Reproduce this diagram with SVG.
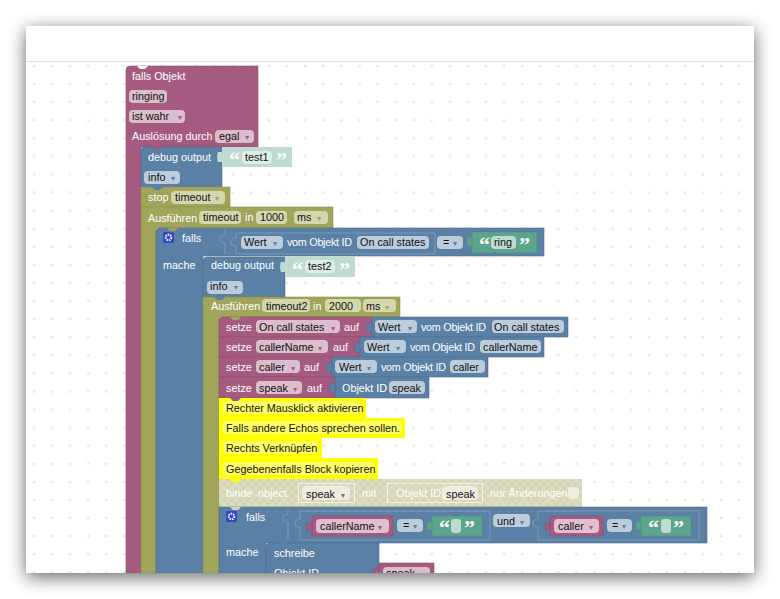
<svg xmlns="http://www.w3.org/2000/svg" width="780" height="599" viewBox="0 0 780 599">
<style>
text{font-family:"Liberation Sans",Arial,sans-serif;font-size:10.8px}
.w{fill:#fff}.d{fill:#111}.pw{fill:#fff}
.pk{fill:#a55b80;stroke:#8e4e6e;stroke-width:.6}.bl{fill:#5b80a5;stroke:#4e6e8e;stroke-width:.6}.ol{fill:#a0a55b;stroke:#8e9150;stroke-width:.6}
.gn{fill:#5ba58c;stroke:#4e8e78;stroke-width:.6}.st{fill:#bddbd1}.ye{fill:#ffff00}
.ppk{fill:#dbbdcc}.pbl{fill:#bdccdb}.pol{fill:#d4d7ae}.pgn{fill:#bddbd1}.pst{fill:#deede8}.pye{fill:#ffff66}.pbd{fill:#eeede0}
.ab{fill:#5b80a5}.ap{fill:#a55b80}.ao{fill:#a0a55b}
.q{font-family:"Liberation Serif",serif;font-weight:bold;font-size:22px;fill:#fff}
.box{fill:none;stroke:#7c99b5;stroke-width:1}.bb{fill:none;stroke:#f4f2e4;stroke-width:1}
.gear{fill:#3344cc}.a{font-size:8px}
.cog{fill:none;stroke:#fff;stroke-width:2;stroke-dasharray:1.5 .9}
.nb{fill:#5b80a5}.np{fill:#a55b80}.no{fill:#a0a55b}.ny{fill:#ffff00}.nw{fill:#fff}
</style>
<defs>
<filter id="sh" x="-10%" y="-10%" width="120%" height="120%"><feGaussianBlur stdDeviation="9"/></filter>
<pattern id="grid" x="34" y="66" width="18.08" height="18.08" patternUnits="userSpaceOnUse"><path d="M-1.500 0H1.500M0-1.500V1.500M16.580 0H19.580M18.080-1.500V1.500M-1.500 18.080H1.500M0 16.580V19.580M16.580 18.080H19.580M18.080 16.580V19.580" stroke="#e0e0e0" stroke-width="1" fill="none"/></pattern>
<pattern id="hatch" width="8" height="8" patternUnits="userSpaceOnUse"><rect width="8" height="8" fill="#d4d4c2"/><path d="M0 0L8 8M8 0L0 8" stroke="#e8e8a4" stroke-width="1"/></pattern>
<path id="bump" d="M0 0l3 3h5l3-3z"/>
<clipPath id="win"><rect x="26" y="26" width="728" height="547"/></clipPath>
</defs>
<rect width="780" height="599" fill="#fff"/>
<rect x="26" y="30" width="728" height="547" fill="#000" opacity=".6" filter="url(#sh)"/>
<rect x="26" y="26" width="728" height="547" fill="#fff"/>
<rect x="26" y="61" width="728" height="1" fill="#e2e2e2"/>
<rect x="26" y="62" width="728" height="511" fill="url(#grid)"/>
<g clip-path="url(#win)">
<g id="falls-objekt">
<path class="pk" d="M126 70Q126 66 130 66H258V147H141V573H126Z"/>
<use href="#bump" class="nw" x="137" y="66"/>
<text class="w" x="132" y="80">falls Objekt</text>
<rect class="ppk" x="129" y="90" width="38" height="13" rx="4"/><text class="d" x="132" y="100">ringing</text>
<rect class="ppk" x="129" y="110" width="56" height="13" rx="4"/><text class="d" x="132" y="120">ist wahr</text><text class="ap a" x="178" y="120">▾</text>
<text class="w" x="132" y="140">Auslösung durch</text>
<rect class="ppk" x="215" y="130" width="39" height="13" rx="4"/><text class="d" x="219" y="140">egal</text><text class="ap a" x="245" y="140">▾</text>
</g>
<g id="debug-1">
<path class="bl" d="M141 151Q141 147 145 147H222V187H141Z"/>
<use href="#bump" class="np" x="152" y="147"/>
<rect class="st" x="222" y="147" width="70" height="20"/><path class="st" d="M218 152h4v10h-4q-2-5 0-10z"/>
<rect class="pst" x="242" y="151" width="30" height="13" rx="4"/>
<text class="w" x="148" y="161">debug output</text><text class="d" x="245" y="161">test1</text>
<text class="q" x="229" y="167">“</text><text class="q" x="276" y="167">”</text>
<rect class="pbl" x="144" y="171" width="36" height="13" rx="4"/><text class="d" x="148" y="181">info</text><text class="ab a" x="171" y="181">▾</text>
</g>
<g id="stop">
<rect class="ol" x="141" y="187" width="89" height="20"/><use href="#bump" class="nb" x="152" y="187"/>
<text class="w" x="148" y="201">stop</text>
<rect class="pol" x="171" y="191" width="54" height="13" rx="4"/><text class="d" x="175" y="201">timeout</text><text class="ao a" x="215" y="201">▾</text>
</g>
<g id="ausfuehren-1">
<path class="ol" d="M141 207H333V228H156V573H141Z"/><use href="#bump" class="no" x="152" y="207"/>
<text class="w" x="148" y="222">Ausführen</text>
<rect class="pol" x="199" y="211" width="42" height="13" rx="4"/><text class="d" x="203" y="221">timeout</text>
<text class="w" x="245" y="221">in</text>
<rect class="pol" x="256" y="211" width="31" height="13" rx="4"/><text class="d" x="260" y="221">1000</text>
<rect class="pol" x="294" y="211" width="34" height="13" rx="4"/><text class="d" x="297" y="221">ms</text><text class="ao a" x="317" y="221">▾</text>
</g>
<g id="falls-1">
<path class="bl" d="M156 232Q156 228 160 228H544V256H203V573H156Z"/><use href="#bump" class="no" x="167" y="228"/>
<rect class="gear" x="163" y="232" width="11" height="11" rx="2"/><circle class="cog" cx="168.500" cy="237.500" r="2.800"/>
<text class="w" x="182" y="242">falls</text><text class="w" x="163" y="269">mache</text>
<path class="box" d="M225 229V235Q220 235 220 239T225 243V254M236 233H435V254H236V246Q231 246 231 242T236 238Z"/>
<rect class="pbl" x="241" y="236" width="42" height="13" rx="4"/><text class="d" x="244" y="246">Wert</text><text class="ab a" x="273" y="246">▾</text>
<text class="w" x="287" y="246" textLength="65">vom Objekt ID</text>
<rect class="pbl" x="357" y="236" width="72" height="13" rx="4"/><text class="d" x="360" y="246">On call states</text>
<rect class="pbl" x="437" y="236" width="26" height="13" rx="4"/><text class="d" x="443" y="246">=</text><text class="ab a" x="453" y="246">▾</text>
<rect class="gn" x="472" y="232" width="65" height="21"/><path class="gn" d="M467 237h5v9h-5z"/>
<rect class="pgn" x="491" y="236" width="25" height="13" rx="4"/><text class="d" x="494" y="246">ring</text>
<text class="q" x="479" y="252">“</text><text class="q" x="519" y="252">”</text>
</g>
<g id="debug-2">
<path class="bl" d="M203 261Q203 257 207 257H285V297H203Z" stroke="#7c99b5"/>
<use href="#bump" class="nb" x="214" y="257"/>
<rect class="st" x="285" y="257" width="70" height="20"/><path class="st" d="M281 262h4v10h-4q-2-5 0-10z"/>
<rect class="pst" x="305" y="260" width="30" height="13" rx="4"/>
<text class="w" x="211" y="269">debug output</text><text class="d" x="308" y="270">test2</text>
<text class="q" x="292" y="277">“</text><text class="q" x="339" y="277">”</text>
<rect class="pbl" x="207" y="281" width="36" height="13" rx="4"/><text class="d" x="210" y="290">info</text><text class="ab a" x="234" y="290">▾</text>
</g>
<g id="ausfuehren-2">
<path class="ol" d="M203 297H400V317H219V573H203Z"/><use href="#bump" class="nb" x="214" y="297"/>
<text class="w" x="211" y="310">Ausführen</text>
<rect class="pol" x="262" y="299" width="48" height="13" rx="4"/><text class="d" x="266" y="310">timeout2</text>
<text class="w" x="313" y="310">in</text>
<rect class="pol" x="325" y="299" width="36" height="13" rx="4"/><text class="d" x="329" y="310">2000</text>
<rect class="pol" x="363" y="299" width="33" height="13" rx="4"/><text class="d" x="366" y="310">ms</text><text class="ao a" x="385" y="310">▾</text>
</g>
<g id="setze-1">
<path class="pk" d="M219 320Q219 317 223 317H372V337H219Z"/><use href="#bump" class="no" x="230" y="317"/>
<text class="w" x="226" y="331">setze</text>
<rect class="ppk" x="256" y="320" width="84" height="13" rx="4"/><text class="d" x="259" y="331">On call states</text><text class="ap a" x="331" y="331">▾</text>
<text class="w" x="344" y="331">auf</text>
<rect class="bl" x="372" y="317" width="196" height="20"/><path class="bl" d="M367 323h5v9h-5z"/>
<rect class="pbl" x="375" y="320" width="42" height="13" rx="4"/><text class="d" x="378" y="331">Wert</text><text class="ab a" x="408" y="331">▾</text>
<text class="w" x="421" y="331" textLength="65">vom Objekt ID</text>
<rect class="pbl" x="492" y="320" width="72" height="13" rx="4"/><text class="d" x="494" y="331">On call states</text>
</g>
<g id="setze-2">
<rect class="pk" x="219" y="337" width="141" height="20"/><use href="#bump" class="np" x="230" y="337"/>
<text class="w" x="226" y="351">setze</text>
<rect class="ppk" x="256" y="340" width="72" height="13" rx="4"/><text class="d" x="259" y="351">callerName</text><text class="ap a" x="318" y="351">▾</text>
<text class="w" x="333" y="351">auf</text>
<rect class="bl" x="360" y="337" width="184" height="20"/><path class="bl" d="M355 343h5v9h-5z"/>
<rect class="pbl" x="364" y="340" width="42" height="13" rx="4"/><text class="d" x="367" y="351">Wert</text><text class="ab a" x="396" y="351">▾</text>
<text class="w" x="410" y="351" textLength="65">vom Objekt ID</text>
<rect class="pbl" x="480" y="340" width="61" height="13" rx="4"/><text class="d" x="483" y="351">callerName</text>
</g>
<g id="setze-3">
<rect class="pk" x="219" y="357" width="113" height="20"/><use href="#bump" class="np" x="230" y="357"/>
<text class="w" x="226" y="371">setze</text>
<rect class="ppk" x="256" y="360" width="44" height="13" rx="4"/><text class="d" x="259" y="371">caller</text><text class="ap a" x="291" y="371">▾</text>
<text class="w" x="304" y="371">auf</text>
<rect class="bl" x="332" y="357" width="156" height="20"/><path class="bl" d="M327 363h5v9h-5z"/>
<rect class="pbl" x="335" y="360" width="42" height="13" rx="4"/><text class="d" x="339" y="371">Wert</text><text class="ab a" x="367" y="371">▾</text>
<text class="w" x="381" y="371" textLength="65">vom Objekt ID</text>
<rect class="pbl" x="450" y="360" width="35" height="13" rx="4"/><text class="d" x="453" y="371">caller</text>
</g>
<g id="setze-4">
<rect class="pk" x="219" y="377" width="116" height="21"/><use href="#bump" class="np" x="230" y="377"/>
<text class="w" x="226" y="392">setze</text>
<rect class="ppk" x="256" y="381" width="46" height="13" rx="4"/><text class="d" x="259" y="392">speak</text><text class="ap a" x="293" y="392">▾</text>
<text class="w" x="307" y="392">auf</text>
<rect class="bl" x="335" y="377" width="94" height="21"/><path class="bl" d="M330 383h5v9h-5z"/>
<text class="w" x="342" y="392">Objekt ID</text>
<rect class="pbl" x="389" y="381" width="36" height="13" rx="4"/><text class="d" x="392" y="392">speak</text>
</g>
<g id="kommentare">
<rect class="ye" x="219" y="398" width="147" height="20"/><rect class="pye" x="223" y="401" width="139" height="13" rx="3"/><use href="#bump" class="np" x="230" y="398"/>
<text class="d" x="226" y="412">Rechter Mausklick aktivieren</text>
<rect class="ye" x="219" y="418" width="186" height="20"/><rect class="pye" x="223" y="421" width="178" height="13" rx="3"/>
<text class="d" x="226" y="432">Falls andere Echos sprechen sollen.</text>
<rect class="ye" x="219" y="438" width="103" height="20"/><rect class="pye" x="223" y="441" width="95" height="13" rx="3"/>
<text class="d" x="226" y="452">Rechts Verknüpfen</text>
<rect class="ye" x="219" y="458" width="159" height="21"/><rect class="pye" x="223" y="462" width="151" height="13" rx="3"/>
<text class="d" x="226" y="473">Gegebenenfalls Block kopieren</text>
</g>
<g id="binde">
<rect x="219" y="479" width="363" height="28" fill="url(#hatch)"/>
<use href="#bump" class="ny" x="230" y="479"/>
<text class="pw" x="226" y="497">binde</text><text class="pw" x="258" y="497">object</text>
<rect class="bb" x="298.500" y="483.500" width="56" height="19"/>
<rect class="pbd" x="302" y="486" width="48" height="14" rx="4"/><text class="d" x="306" y="498">speak</text><text class="ap a" x="341" y="498">▾</text>
<text class="pw" x="362" y="497">mit</text>
<rect class="bb" x="387.500" y="483.500" width="95" height="19"/>
<text class="pw" x="396" y="497">Objekt ID</text>
<rect class="pbd" x="442" y="486" width="36" height="14" rx="4"/><text class="d" x="446" y="498">speak</text>
<text class="pw" x="490" y="497">nur Änderungen</text>
<rect class="pbd" x="568" y="487" width="11" height="12" rx="3"/>
</g>
<g id="falls-2">
<path class="bl" d="M219 507H707V543H266V573H219Z"/><use href="#bump" fill="#d4d4c2" x="230" y="507"/>
<rect class="gear" x="226" y="511" width="11" height="11" rx="2"/><circle class="cog" cx="231.500" cy="516.500" r="2.800"/>
<text class="w" x="246" y="521">falls</text><text class="w" x="226" y="556">mache</text>
<path class="box" d="M288 508V514Q283 514 283 518T288 522V540M300 511H490V540H300V527Q295 527 295 523T300 519ZM538 511H699V540H538V527Q533 527 533 523T538 519Z"/>
<rect class="pk" x="312" y="516" width="81" height="20"/><path class="pk" d="M307 523h5v7h-5z"/>
<rect class="ppk" x="316" y="519" width="73" height="14" rx="4" style="fill:#e0bfd0"/><text class="d" x="320" y="530">callerName</text><text class="ap a" x="378" y="530">▾</text>
<rect class="pbl" x="397" y="519" width="26" height="13" rx="4"/><text class="d" x="403" y="529">=</text><text class="ab a" x="413" y="529">▾</text>
<rect class="gn" x="432" y="516" width="50" height="20"/><path class="gn" d="M427 522h5v8h-5z"/>
<rect class="pgn" x="451" y="519" width="10" height="14" rx="3"/>
<text class="q" x="439" y="535">“</text><text class="q" x="464" y="535">”</text>
<rect class="pbl" x="493" y="514" width="37" height="13" rx="4"/><text class="d" x="497" y="525">und</text><text class="ab a" x="520" y="525">▾</text>
<rect class="pk" x="550" y="516" width="53" height="20"/><path class="pk" d="M545 523h5v7h-5z"/>
<rect class="ppk" x="554" y="519" width="45" height="14" rx="4" style="fill:#e0bfd0"/><text class="d" x="558" y="530">caller</text><text class="ap a" x="589" y="530">▾</text>
<rect class="pbl" x="607" y="519" width="25" height="13" rx="4"/><text class="d" x="612" y="529">=</text><text class="ab a" x="622" y="529">▾</text>
<rect class="gn" x="641" y="516" width="50" height="20"/><path class="gn" d="M636 522h5v8h-5z"/>
<rect class="pgn" x="661" y="519" width="10" height="14" rx="3"/>
<text class="q" x="648" y="535">“</text><text class="q" x="673" y="535">”</text>
</g>
<g id="schreibe">
<path class="bl" d="M266 547Q266 543 270 543H379V573H266Z" stroke="#7c99b5"/><use href="#bump" class="nb" x="277" y="543"/>
<text class="w" x="274" y="557">schreibe</text><text class="w" x="274" y="577">Objekt ID</text>
<rect class="pk" x="379" y="563" width="55" height="12"/><path class="pk" d="M374 568h5v7h-5z"/>
<rect class="ppk" x="383" y="567" width="47" height="13" rx="4"/><text class="d" x="386" y="577">speak</text><text class="ap a" x="421" y="577">▾</text>
</g>
</g>
</svg>
